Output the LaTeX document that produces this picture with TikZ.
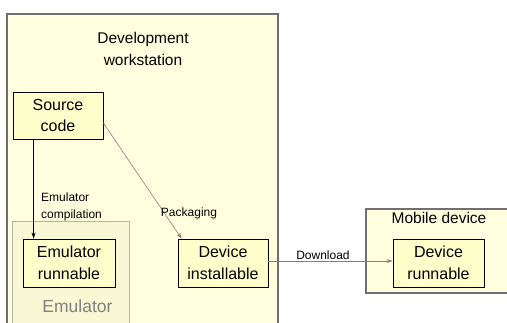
\documentclass[tikz,border=0pt]{standalone}
\usepackage{fontspec}
\setmainfont{Liberation Sans}
\usetikzlibrary{arrows.meta,calc}
\definecolor{wsfill}{HTML}{FFFFE0}
\definecolor{boxfill}{HTML}{FFFFCC}
\definecolor{emufill}{HTML}{F8F8D4}
\definecolor{emuline}{HTML}{B4B4A8}
\definecolor{frame}{HTML}{707070}
\definecolor{conn}{HTML}{808080}
\tikzset{
  unit/.style={draw=black, fill=boxfill, line width=0.8pt, minimum width=90pt, minimum height=48pt,
    inner sep=0pt, align=center, font=\fontsize{16}{21.5}\selectfont},
  lbl/.style={font=\fontsize{12}{17}\selectfont, inner sep=0pt, align=left},
  big/.style={font=\fontsize{15.5}{22}\selectfont, inner sep=0pt, align=center},
  tipg/.style={-{Stealth[length=6pt,width=4pt]}},
}
\begin{document}
\begin{tikzpicture}[x=1pt,y=-1pt]
\useasboundingbox (0,0) rectangle (507,323);
% development workstation
\fill[wsfill] (7,14) rectangle (278,323);
\draw[frame, line width=1.6pt] (7,323) -- (7,14) -- (278,14) -- (278,323);
\node[big] (wst) at (143,49) {Development\\workstation};
% emulator container
\fill[emufill] (12,222) rectangle (129,323);
\draw[emuline, line width=1pt] (12,323) -- (12,222) -- (129,222) -- (129,323);
\node[big, font=\fontsize{17.5}{22}\selectfont, text=gray] (emul) at (77.5,306) {Emulator};
% mobile device
\draw[frame, fill=wsfill, line width=1.4pt] (366,209) rectangle (512,293);
\node[big] (mob) at (439,218) {Mobile device};
% units
\node[unit, minimum height=47pt] (src) at (58,115.5) {Source\\code};
\node[unit, minimum width=92pt] (erun) at (69,263) {Emulator\\runnable};
\node[unit] (dinst) at (223,263) {Device\\installable};
\node[unit, minimum width=91pt] (drun) at (438.5,263) {Device\\runnable};
% connectors
\coordinate (a1) at ($(src.south west)+(21,0)$);
\draw[black, line width=0.6pt, tipg] (a1) -- (a1 |- erun.north);
\coordinate (p1) at ($(src.east)+(0,7.5)$);
\coordinate (p2) at ($(dinst.north west)+(4,0)$);
\draw[conn, line width=0.6pt, tipg] (p1) -- (p2);
\coordinate (d1) at ($(dinst.east)+(0,-2)$);
\draw[conn, line width=0.8pt, tipg] (d1) -- (d1 -| drun.west);
% labels
\node[lbl, anchor=west] (lc) at (41,206.5) {Emulator\\compilation};
\node[lbl] (lp) at (189,213) {Packaging};
\node[lbl] (ld) at (323,255) {Download};
\end{tikzpicture}
\end{document}
